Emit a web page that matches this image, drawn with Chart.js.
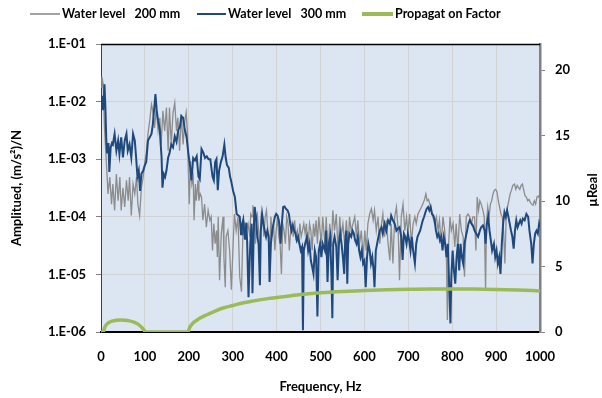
<!DOCTYPE html>
<html>
<head>
<meta charset="utf-8">
<script src="https://cdn.jsdelivr.net/npm/chart.js@4"></script>
<style>
html,body{margin:0;padding:0;background:#fff;}
#wrap{width:602px;height:398px;position:relative;}
canvas{display:block;}
</style>
</head>
<body>
<div id="wrap"><canvas id="c" width="602" height="398"></canvas></div>
<script>
// ---------------- DATA ----------------
const seriesNames = ['Water level   200 mm', 'Water level   300 mm', 'Propagat on Factor'];
const xTicks = [0, 100, 200, 300, 400, 500, 600, 700, 800, 900, 1000];
const yDecades = [1e-6, 1e-5, 1e-4, 1e-3, 1e-2, 1e-1];
const y2Ticks = [0, 5, 10, 15, 20];

// Water level 200 mm (grey)
const freq200 = [
  0,2,5,8,12,16,20,24,27,31,
  35,39,43,46,50,54,58,62,65,69,
  73,77,81,84,88,92,96,100,103,107,
  111,115,118,122,126,130,134,137,141,145,
  149,153,156,160,164,168,172,175,179,183,
  187,191,194,197,199,201,204,207,210,212,
  215,217,221,223,226,229,232,236,240,244,
  248,251,254,257,260,263,265,267,270,274,
  278,280,283,285,289,293,297,301,304,308,
  312,316,320,323,327,331,335,339,341,344,
  346,349,352,354,356,359,362,365,368,371,
  374,377,380,384,387,390,393,396,399,402,
  405,408,411,414,417,420,423,426,429,432,
  435,438,441,444,447,450,453,456,459,462,
  465,468,471,475,478,481,484,487,490,493,
  496,499,502,505,510,513,517,521,525,528,
  532,536,540,544,547,551,555,559,563,566,
  570,574,578,582,585,589,593,597,601,604,
  608,612,616,620,623,627,631,635,639,642,
  646,650,654,658,661,665,669,673,677,680,
  684,688,692,696,699,703,707,711,715,718,
  722,726,730,733,737,740,743,746,749,752,
  756,760,764,768,771,775,779,783,787,789,
  792,795,798,802,806,809,813,817,821,825,
  828,832,836,840,844,847,851,854,857,860,
  863,866,870,873,876,878,881,884,887,890,
  893,896,899,902,905,908,911,914,917,920,
  923,926,929,932,935,938,942,945,948,951,
  954,957,960,963,966,969,972,975,978,981,
  984,987,990,993,996,1000
];
const amp200 = [
  1.78e-2,2.7e-2,2.0e-2,3.5e-3,9.3e-4,2.5e-4,4.9e-4,1.66e-4,3.7e-4,1.29e-4,
  5.5e-4,1.9e-4,4.9e-4,1.29e-4,3.2e-4,1.48e-4,4.3e-4,1.9e-4,4.9e-4,1.05e-4,
  3.7e-4,2.5e-4,4.9e-4,1.66e-4,1.05e-4,3.2e-4,4.9e-4,9.3e-4,1.23e-3,2.75e-3,
  4.7e-3,8.9e-3,6.9e-3,3.5e-3,7.9e-3,3.1e-3,5.25e-3,1.8e-3,6.9e-3,3.1e-3,
  7.9e-3,1.4e-3,7.9e-3,1.8e-3,6.3e-3,9.5e-3,3.1e-3,5.25e-3,1.4e-3,6.0e-3,
  1.8e-3,4.7e-3,6.5e-3,2.75e-3,6.3e-4,1.66e-4,9.3e-4,3.7e-4,4.9e-4,8.7e-5,
  3.7e-4,1.9e-4,4.3e-4,1.9e-4,2.5e-4,2.2e-4,8.7e-5,1.66e-4,6.6e-5,1.29e-4,
  8.7e-5,1.0e-4,2.6e-5,7.6e-5,3.4e-5,5.75e-5,2.0e-5,1.0e-4,7.9e-6,5.1e-5,
  1.0e-4,2.0e-5,6.0e-6,4.5e-5,5.75e-5,2.6e-5,5.4e-6,3.4e-5,1.12e-4,5.75e-5,
  1.0e-4,9.1e-6,5.0e-6,4.5e-5,7.6e-5,5.75e-5,7.6e-5,4.5e-5,1.12e-4,1.0e-4,
  1.58e-4,8.7e-5,3.4e-5,1.0e-4,1.12e-4,5.75e-5,2.6e-5,1.12e-4,1.0e-4,4.5e-5,
  1.0e-4,1.29e-4,5.75e-5,2.0e-5,1.0e-4,4.5e-5,7.6e-5,2.6e-5,5.75e-5,1.0e-4,
  4.5e-5,3.4e-5,1.02e-5,7.6e-5,5.75e-5,3.4e-5,1.0e-4,7.6e-5,2.6e-5,5.75e-5,
  7.6e-5,4.5e-5,8.7e-5,4.5e-5,5.75e-5,3.4e-5,7.6e-5,4.5e-5,5.75e-5,7.6e-5,
  5.1e-5,7.6e-5,2.6e-5,7.6e-5,5.75e-5,2.6e-5,7.6e-5,4.5e-5,8.7e-5,3.4e-5,
  1.0e-4,5.75e-5,3.4e-5,1.0e-4,3.4e-5,1.0e-4,2.0e-5,7.6e-5,3.0e-5,1.29e-4,
  5.75e-5,1.12e-4,2.6e-5,1.0e-4,4.5e-5,7.6e-5,3.4e-5,8.7e-5,2.6e-5,1.0e-4,
  5.75e-5,7.6e-5,1.0e-4,4.5e-5,8.7e-5,3.4e-5,5.75e-5,2.0e-5,5.75e-5,2.6e-5,
  7.6e-5,1.12e-4,1.38e-4,8.7e-5,1.29e-4,5.75e-5,1.0e-4,3.4e-5,7.6e-5,1.12e-4,
  4.5e-5,8.7e-5,3.4e-5,1.74e-5,7.6e-5,1.55e-5,1.0e-4,1.48e-4,5.75e-5,7.9e-6,
  1.0e-4,1.66e-4,5.75e-5,1.0e-4,5.1e-5,1.12e-4,3.4e-5,7.6e-5,1.0e-4,7.6e-5,
  1.12e-4,1.29e-4,1.48e-4,1.66e-4,2.0e-4,2.5e-4,1.9e-4,2.0e-4,1.66e-4,1.29e-4,
  1.0e-4,7.6e-5,1.0e-4,5.75e-5,8.7e-5,3.4e-5,1.0e-4,5.75e-5,1.74e-5,1.62e-6,
  3.4e-5,1.0e-4,5.75e-5,7.6e-5,3.0e-5,7.6e-5,2.6e-5,1.12e-4,5.75e-5,4.5e-5,
  9.1e-6,1.0e-4,1.12e-4,1.0e-4,7.6e-5,1.0e-4,1.0e-4,2.6e-5,2.2e-4,1.29e-4,
  1.9e-4,1.66e-4,1.29e-4,1.0e-4,5.4e-6,7.6e-5,1.48e-4,1.0e-4,1.66e-4,1.9e-4,
  2.5e-4,2.9e-4,3.0e-4,2.7e-4,1.9e-4,1.48e-4,1.12e-4,1.0e-4,5.75e-5,1.55e-5,
  1.0e-4,1.48e-4,1.9e-4,2.5e-4,2.9e-4,3.5e-4,3.7e-4,3.0e-4,3.5e-4,3.2e-4,
  3.0e-4,3.5e-4,3.7e-4,2.9e-4,2.3e-4,2.2e-4,1.9e-4,2.0e-4,1.78e-4,1.66e-4,
  1.58e-4,1.9e-4,1.66e-4,2.2e-4,2.3e-4,2.0e-4
];

// Water level 300 mm (dark blue)
const freq300 = [
  0,3,5,8,10,12,14,17,19,22,
  25,27,31,35,39,42,46,50,54,58,
  61,65,69,73,77,80,83,86,89,92,
  96,100,103,107,111,115,118,122,124,127,
  130,134,136,138,140,143,146,149,153,156,
  160,164,168,172,176,180,183,187,191,195,
  199,203,206,210,214,218,222,225,229,233,
  237,241,245,249,254,257,260,263,266,269,
  273,277,281,284,287,291,294,297,301,305,
  309,313,316,319,321,324,326,328,331,333,
  336,340,343,345,348,350,353,356,359,362,
  364,367,370,373,376,379,382,384,387,390,
  393,396,399,402,405,407,409,412,415,418,
  421,425,428,431,434,437,440,443,446,449,
  452,455,458,460,462,465,469,472,475,478,
  481,484,487,490,493,496,499,502,505,510,
  513,516,519,522,525,527,529,532,536,539,
  542,545,548,551,554,556,559,561,563,566,
  570,573,576,579,582,585,588,591,594,597,
  600,603,606,609,612,615,618,621,623,626,
  629,632,635,639,642,646,650,654,658,661,
  665,669,673,677,680,684,687,690,693,696,
  699,702,705,708,711,715,718,721,724,727,
  730,733,736,739,742,745,748,751,754,757,
  760,763,766,769,772,775,778,781,784,787,
  790,793,796,798,801,804,807,810,813,816,
  819,822,825,828,831,834,837,840,844,847,
  851,855,859,863,866,870,874,876,879,882,
  885,888,891,895,898,901,904,907,910,913,
  916,919,922,925,928,931,934,937,940,943,
  946,949,952,955,958,961,965,969,973,976,
  980,983,986,989,992,995,998,1000
];
const amp300 = [
  7.1e-3,1.26e-2,7.1e-3,2.0e-2,7.9e-3,2.2e-3,1.26e-3,1.9e-3,6.0e-4,1.6e-3,
  1.9e-3,1.8e-3,2.75e-3,1.4e-3,2.1e-3,1.23e-3,2.4e-3,1.07e-3,2.1e-3,2.75e-3,
  1.4e-3,1.8e-3,1.07e-3,2.75e-3,2.1e-3,1.07e-3,5.0e-4,6.3e-4,2.8e-4,5.6e-4,
  6.3e-4,7.9e-4,8.9e-4,2.1e-3,2.4e-3,2.75e-3,4.0e-3,8.9e-3,1.35e-2,6.9e-3,
  4.7e-3,3.2e-3,1.8e-3,1.07e-3,3.2e-4,5.5e-4,4.9e-4,6.3e-4,1.07e-3,1.26e-3,
  1.8e-3,1.6e-3,2.5e-3,2.0e-3,3.2e-3,3.7e-3,5.6e-3,5.25e-3,3.2e-3,2.4e-3,
  1.26e-3,7.4e-4,4.3e-4,1.05e-3,9.5e-4,1.12e-3,5.0e-4,4.5e-4,1.5e-3,1.3e-3,
  1.05e-3,1.12e-3,1.0e-3,1.0e-3,5.0e-4,4.3e-4,8.9e-4,1.0e-3,2.9e-4,6.3e-4,
  8.9e-4,1.12e-3,1.8e-3,1.07e-3,7.9e-4,7.1e-4,5.0e-4,4.0e-4,2.8e-4,2.2e-4,
  1.12e-4,1.05e-4,1.0e-4,5.0e-5,7.1e-5,8.9e-5,5.6e-5,4.0e-5,7.9e-5,3.5e-5,
  4.0e-6,3.4e-5,7.6e-5,4.7e-6,5.75e-5,1.48e-4,1.0e-4,4.5e-5,3.4e-5,6.5e-6,
  5.75e-5,1.12e-4,7.6e-5,5.75e-5,4.5e-5,5.75e-5,4.5e-5,7.4e-6,3.4e-5,5.75e-5,
  7.6e-5,1.0e-4,1.12e-4,1.05e-4,8.7e-5,6.6e-5,3.4e-5,7.6e-5,1.48e-4,1.51e-4,
  1.38e-4,1.29e-4,1.12e-4,7.6e-5,5.75e-5,7.1e-5,5.75e-5,5.1e-5,3.9e-5,4.5e-5,
  3.4e-5,2.6e-5,3.0e-5,1.07e-6,2.6e-5,3.4e-5,4.5e-5,2.6e-5,3.4e-5,1.74e-5,
  1.35e-5,1.02e-5,2.6e-5,2.0e-5,1.86e-6,2.6e-5,3.4e-5,2.0e-5,3.4e-5,2.6e-5,
  5.75e-5,7.4e-6,3.4e-5,4.5e-5,9.1e-6,1.74e-6,3.4e-5,4.5e-5,3.0e-5,7.9e-6,
  3.4e-5,5.1e-5,3.4e-5,2.0e-5,1.02e-5,3.4e-5,5.75e-5,6.9e-6,3.4e-5,5.1e-5,
  4.5e-5,5.75e-5,5.1e-5,3.9e-5,3.4e-5,4.5e-5,2.6e-5,2.0e-5,2.6e-5,1.55e-5,
  1.74e-5,6.0e-6,2.0e-5,3.4e-5,2.6e-5,1.55e-5,2.0e-5,1.17e-5,6.0e-6,2.6e-5,
  3.4e-5,4.5e-5,5.75e-5,6.6e-5,5.1e-5,7.6e-5,5.75e-5,8.7e-5,7.6e-5,1.05e-4,
  8.7e-5,7.6e-5,5.75e-5,6.3e-5,6.6e-5,4.5e-5,1.78e-5,5.1e-5,4.5e-5,3.4e-5,
  5.1e-5,3.9e-5,2.6e-5,4.5e-5,2.6e-5,1.55e-5,3.4e-5,4.5e-5,5.1e-5,5.75e-5,
  7.1e-5,8.7e-5,1.0e-4,1.2e-4,1.38e-4,1.48e-4,1.29e-4,1.48e-4,1.12e-4,1.05e-4,
  8.7e-5,5.75e-5,4.5e-5,5.1e-5,3.9e-5,4.5e-5,2.6e-5,4.5e-5,3.4e-5,2.0e-5,
  3.4e-5,6.9e-6,1.41e-6,9.1e-6,2.6e-5,1.17e-5,6.9e-6,2.0e-5,3.4e-5,1.17e-5,
  3.4e-5,2.0e-5,1.55e-5,3.4e-5,4.5e-5,5.75e-5,7.6e-5,8.7e-5,7.6e-5,7.1e-5,
  5.75e-5,5.1e-5,4.5e-5,5.75e-5,6.6e-5,7.1e-5,5.75e-5,3.4e-5,7.6e-5,1.0e-4,
  5.75e-5,3.9e-5,2.6e-5,3.4e-5,2.0e-5,2.6e-5,1.55e-5,2.0e-5,1.02e-5,3.4e-5,
  7.6e-5,1.2e-4,1.0e-4,1.29e-4,1.0e-4,7.6e-5,5.75e-5,4.5e-5,2.8e-5,5.75e-5,
  8.7e-5,6.6e-5,7.6e-5,8.7e-5,7.6e-5,9.3e-5,8.7e-5,1.12e-4,1.0e-4,5.75e-5,
  3.4e-5,1.55e-5,3.4e-5,5.1e-5,5.75e-5,5.1e-5,7.6e-5,6.6e-5
];

// Propagation factor (green, right axis)
const freqPF = [0,5,8,12,18,25,35,45,55,65,75,85,93,98,101,150,198,202,210,225,240,260,280,300,320,340,380,420,460,500,550,600,650,700,750,800,850,900,950,1000];
const valPF  = [0,0,0.3,0.55,0.72,0.83,0.9,0.92,0.9,0.85,0.75,0.58,0.35,0.15,0,0,0,0.35,0.7,1.05,1.3,1.6,1.85,2.02,2.2,2.33,2.55,2.72,2.88,3.0,3.1,3.17,3.23,3.27,3.29,3.29,3.28,3.25,3.2,3.14];

// ---------------- CHART ----------------
const FONT = 'Lato, "Open Sans", "DejaVu Sans", sans-serif';
Chart.defaults.font.family = FONT;
Chart.defaults.font.size = 13;
Chart.defaults.font.weight = 'bold';
Chart.defaults.color = '#000';

const COLORS = ['#8C8C8C', '#1F497D', '#9BBB59'];
const WIDTHS = [1.3, 2, 3.5];

function pts(xs, ys) { return xs.map((x, i) => ({ x: x, y: ys[i] })); }

const decorPlugin = {
  id: 'decor',
  beforeDraw(chart) {
    const { ctx, chartArea: a } = chart;
    ctx.save();
    ctx.fillStyle = '#DCE6F2';
    ctx.fillRect(a.left, a.top, a.right - a.left, a.bottom - a.top);
    ctx.restore();
  },
  afterDraw(chart) {
    const { ctx, chartArea: a } = chart;
    ctx.save();
    // top border of plot area
    ctx.strokeStyle = '#000';
    ctx.lineWidth = 1.5;
    ctx.beginPath();
    ctx.moveTo(a.left, a.top + 0.5);
    ctx.lineTo(a.right, a.top + 0.5);
    ctx.stroke();

    // legend
    const items = [
      { x0: 30, x1: 60, tx: 62 },
      { x0: 197, x1: 226, tx: 228 },
      { x0: 362, x1: 393, tx: 395 }
    ];
    const ly = 14;
    ctx.font = 'bold 12.5px ' + FONT;
    ctx.textBaseline = 'middle';
    ctx.textAlign = 'left';
    items.forEach((it, i) => {
      ctx.strokeStyle = COLORS[i];
      ctx.lineWidth = i === 2 ? 4 : (i === 1 ? 2 : 1.6);
      ctx.beginPath();
      ctx.moveTo(it.x0, ly);
      ctx.lineTo(it.x1, ly);
      ctx.stroke();
      ctx.fillStyle = '#000';
      ctx.fillText(seriesNames[i], it.tx, ly);
    });

    // right axis title (reads bottom-to-top)
    ctx.translate(593, 190);
    ctx.rotate(-Math.PI / 2);
    ctx.textAlign = 'center';
    ctx.font = 'bold 13px ' + FONT;
    ctx.fillText('\u00B5Real', 0, 0);
    ctx.restore();
  }
};

function fmtDecade(v) {
  const e = Math.round(Math.log10(v));
  const n = Math.abs(e);
  return '1.E' + (e < 0 ? '-' : '+') + (n < 10 ? '0' + n : '' + n);
}

new Chart(document.getElementById('c'), {
  type: 'line',
  data: {
    datasets: [
      { label: seriesNames[0], data: pts(freq200, amp200), borderColor: COLORS[0], backgroundColor: COLORS[0],
        borderWidth: WIDTHS[0], pointRadius: 0, yAxisID: 'y', order: 3, tension: 0 },
      { label: seriesNames[1], data: pts(freq300, amp300), borderColor: COLORS[1], backgroundColor: COLORS[1],
        borderWidth: WIDTHS[1], pointRadius: 0, yAxisID: 'y', order: 2, tension: 0 },
      { label: seriesNames[2], data: pts(freqPF, valPF), borderColor: COLORS[2], backgroundColor: COLORS[2],
        borderWidth: WIDTHS[2], pointRadius: 0, yAxisID: 'y2', order: 1, cubicInterpolationMode: 'monotone' }
    ]
  },
  options: {
    responsive: false,
    animation: false,
    devicePixelRatio: 1,
    layout: { padding: { top: 44, left: 0, right: 0, bottom: 0 } },
    plugins: { legend: { display: false }, tooltip: { enabled: false } },
    scales: {
      x: {
        type: 'linear', position: 'bottom', min: 0, max: 1000,
        afterBuildTicks(s) { s.ticks = xTicks.map(v => ({ value: v })); },
        ticks: { padding: 17, maxRotation: 0, autoSkip: false, color: '#000', callback: v => String(v) },
        grid: { color: '#D2D2D2', lineWidth: 1, drawTicks: false },
        border: { color: '#000', width: 2 },
        title: { display: true, text: 'Frequency, Hz', font: { size: 13, weight: 'bold' }, padding: { top: 0, bottom: 3 } },
        afterFit(s) { s.height = 66; }
      },
      y: {
        type: 'logarithmic', position: 'left', min: 1e-6, max: 1e-1,
        afterBuildTicks(s) { s.ticks = yDecades.map(v => ({ value: v })); },
        ticks: { callback: fmtDecade, padding: 10, autoSkip: false, color: '#000' },
        grid: { color: '#D2D2D2', lineWidth: 1, drawTicks: true, tickLength: 5, tickColor: '#808080' },
        border: { color: '#404040', width: 1 },
        title: { display: true, text: 'Amplitued, (m/s\u00B2)/N', font: { size: 13, weight: 'bold' }, padding: { top: 9, bottom: 0 } },
        afterFit(s) { s.width = 101; }
      },
      y2: {
        type: 'linear', position: 'right', min: 0, max: 22,
        afterBuildTicks(s) { s.ticks = y2Ticks.map(v => ({ value: v })); },
        ticks: { padding: 10, autoSkip: false, color: '#000' },
        grid: { drawOnChartArea: false, drawTicks: true, tickLength: 5, tickColor: '#808080' },
        border: { color: '#808080', width: 2.5 },
        afterFit(s) { s.width = 62; }
      }
    }
  },
  plugins: [decorPlugin]
});
</script>
</body>
</html>
